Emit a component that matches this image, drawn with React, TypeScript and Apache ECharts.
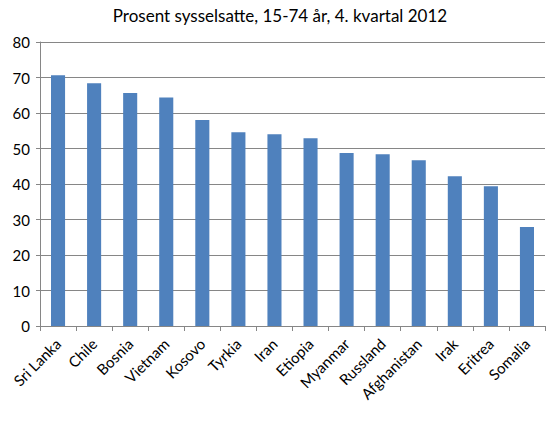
import React, { useEffect, useRef } from "react";
import * as echarts from "echarts";

const categories = ["Sri Lanka", "Chile", "Bosnia", "Vietnam", "Kosovo", "Tyrkia", "Iran", "Etiopia", "Myanmar", "Russland", "Afghanistan", "Irak", "Eritrea", "Somalia"];
const values = [70.6, 68.4, 65.6, 64.4, 58.0, 54.6, 54.0, 52.9, 48.7, 48.4, 46.7, 42.2, 39.4, 27.9];
const yTicks = { min: 0, max: 80, interval: 10 };
const titleText = "Prosent sysselsatte, 15-74 år, 4. kvartal 2012";

export default function App() {
  const ref = useRef<HTMLDivElement>(null);
  useEffect(() => {
    if (!ref.current) return;
    const chart = echarts.init(ref.current, undefined, { renderer: "svg" });
    const font = "Lato, 'Open Sans', sans-serif";
    chart.setOption({
      animation: false,
      backgroundColor: "#ffffff",
      title: {
        text: titleText,
        left: "center",
        top: 2,
        textStyle: { fontFamily: font, fontSize: 17, fontWeight: "normal", color: "#000" },
      },
      grid: { left: 40, right: 15, top: 42, bottom: 98 },
      xAxis: {
        type: "category",
        data: categories,
        axisLine: { lineStyle: { color: "#868686" } },
        axisTick: { show: true, alignWithLabel: false, length: 5, lineStyle: { color: "#868686" } },
        axisLabel: { rotate: 45, interval: 0, fontFamily: font, fontSize: 15, color: "#000", margin: 15 },
      },
      yAxis: {
        type: "value",
        min: yTicks.min,
        max: yTicks.max,
        interval: yTicks.interval,
        axisLine: { show: true, lineStyle: { color: "#868686" } },
        axisTick: { show: true, length: 4, lineStyle: { color: "#868686" } },
        splitLine: { lineStyle: { color: "#868686" } },
        axisLabel: { fontFamily: font, fontSize: 15, color: "#000", margin: 10 },
      },
      series: [
        {
          type: "bar",
          data: values,
          barWidth: "39%",
          itemStyle: { color: "#4f81bd" },
        },
      ],
    });
    return () => chart.dispose();
  }, []);
  return <div ref={ref} style={{ position: "fixed", left: 0, top: 0, width: 560, height: 424 }} />;
}
